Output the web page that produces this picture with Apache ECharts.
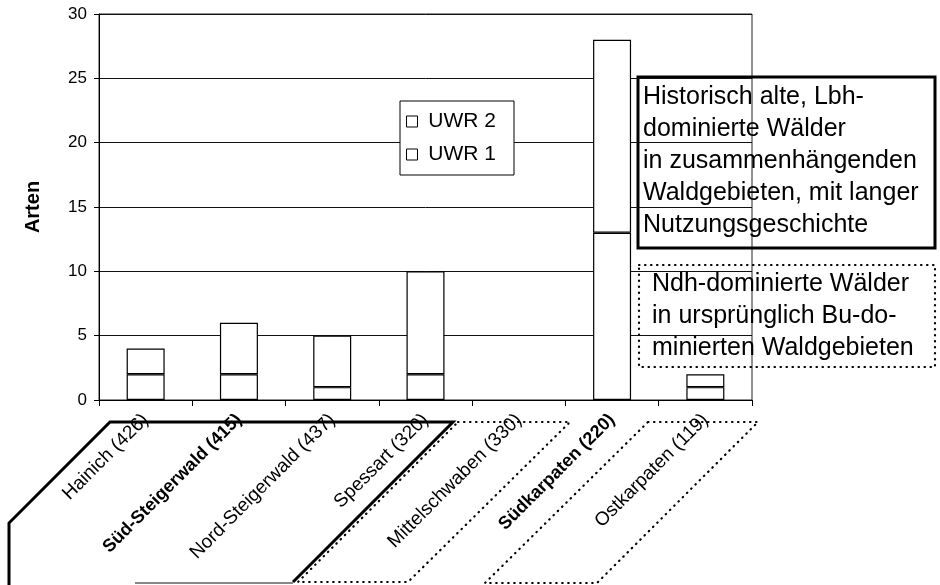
<!DOCTYPE html>
<html>
<head>
<meta charset="utf-8">
<title>Arten UWR</title>
<script src="https://cdn.jsdelivr.net/npm/echarts@6/dist/echarts.min.js"></script>
<style>
  html, body { margin: 0; padding: 0; background: #fff; }
  #chart { width: 940px; height: 585px; }
</style>
</head>
<body>
<div id="chart"></div>
<script>
// Gebiete (Anzahl Aufnahmen)
const categories = ['Hainich (426)', 'Süd-Steigerwald (415)', 'Nord-Steigerwald (437)', 'Spessart (320)', 'Mittelschwaben (330)', 'Südkarpaten (220)', 'Ostkarpaten (119)']
const boldCategories = ['Süd-Steigerwald (415)', 'Südkarpaten (220)']
const uwr1 = [2, 2, 1, 2, 0, 13, 1]
const uwr2 = [2, 4, 4, 8, 0, 15, 1]
const yMin = 0
const yMax = 30
const yStep = 5

const font = 'Liberation Sans, Arial, sans-serif'
const barStyle = { color: '#fff', borderColor: '#000', borderWidth: 1.2 }
// leere Werte nicht als Strich zeichnen
const noZero = v => (v === 0 ? '-' : v)
const dotted = { stroke: '#000', lineWidth: 2.2, fill: 'rgba(0,0,0,0)', lineDash: [0.5, 5.5], lineCap: 'round' }

let myChart = echarts.init(document.getElementById('chart'))

let options = {
  animation: false,
  backgroundColor: '#fff',
  textStyle: { fontFamily: font, color: '#000' },
  grid: {
    left: 99,
    right: 188,
    top: 14,
    bottom: 185,
    show: true,
    borderColor: '#222',
    borderWidth: 1
  },
  legend: {
    orient: 'vertical',
    left: 400,
    top: 101,
    data: ['UWR 2', 'UWR 1'],
    icon: 'rect',
    itemWidth: 11,
    itemHeight: 11,
    itemGap: 12,
    padding: [10, 18, 10, 6],
    borderColor: '#000',
    borderWidth: 1,
    backgroundColor: '#fff',
    formatter: ' {name}',
    itemStyle: { color: '#fff', borderColor: '#000', borderWidth: 1 },
    textStyle: { fontSize: 21, lineHeight: 19, color: '#000', fontFamily: font }
  },
  xAxis: {
    type: 'category',
    data: categories,
    axisLine: { lineStyle: { color: '#000', width: 1 } },
    axisTick: { show: true, length: 6, lineStyle: { color: '#000' } },
    axisLabel: {
      interval: 0,
      rotate: 45,
      margin: 17,
      fontSize: 19,
      color: '#000',
      fontFamily: font,
      formatter: function (val) {
        return boldCategories.indexOf(val) >= 0 ? '{b|' + val + '}' : val
      },
      rich: {
        b: { fontWeight: 'bold', fontSize: 18, fontFamily: font, color: '#000' }
      }
    }
  },
  yAxis: {
    type: 'value',
    min: yMin,
    max: yMax,
    interval: yStep,
    name: 'Arten',
    nameLocation: 'middle',
    nameGap: 56,
    nameTextStyle: { fontSize: 20, fontWeight: 'bold', color: '#000', fontFamily: font },
    axisLine: { show: true, lineStyle: { color: '#000', width: 1 } },
    axisTick: { show: true, length: 5, lineStyle: { color: '#000' } },
    axisLabel: { fontSize: 17, margin: 12, color: '#000', fontFamily: font },
    splitLine: { lineStyle: { color: '#111', width: 1 } }
  },
  series: [
    {
      name: 'UWR 1',
      type: 'bar',
      stack: 'arten',
      barWidth: 38,
      itemStyle: barStyle,
      data: uwr1.map(noZero)
    },
    {
      name: 'UWR 2',
      type: 'bar',
      stack: 'arten',
      barWidth: 38,
      itemStyle: barStyle,
      data: uwr2.map(noZero)
    }
  ],
  // Textkaesten und Rahmen um die Gebietsgruppen
  graphic: [
    {
      type: 'rect',
      shape: { x: 638, y: 77, width: 297, height: 171 },
      style: { fill: 'rgba(0,0,0,0)', stroke: '#000', lineWidth: 3 }
    },
    {
      type: 'text',
      left: 643,
      top: 81,
      style: {
        text: 'Historisch alte, Lbh-\ndominierte Wälder\nin zusammenhängenden\nWaldgebieten, mit langer\nNutzungsgeschichte',
        font: '25px ' + font,
        lineHeight: 32,
        fill: '#000'
      }
    },
    {
      type: 'rect',
      shape: { x: 639, y: 265, width: 296, height: 102 },
      style: dotted
    },
    {
      type: 'text',
      left: 652,
      top: 268,
      style: {
        text: 'Ndh-dominierte Wälder\nin ursprünglich Bu-do-\nminierten Waldgebieten',
        font: '25px ' + font,
        lineHeight: 32,
        fill: '#000'
      }
    },
    {
      type: 'polyline',
      shape: { points: [[9, 585], [9, 523], [110, 422], [453, 422], [293, 582]] },
      style: { stroke: '#000', lineWidth: 3, fill: null }
    },
    {
      type: 'polyline',
      shape: { points: [[135, 583], [293, 583]] },
      style: { stroke: '#888', lineWidth: 2, fill: null }
    },
    {
      type: 'polygon',
      shape: { points: [[458, 422], [570, 422], [408, 582], [298, 582]] },
      style: dotted
    },
    {
      type: 'polygon',
      shape: { points: [[648, 422], [758, 422], [597, 583], [485, 583]] },
      style: dotted
    }
  ]
}

myChart.setOption(options)
</script>
</body>
</html>
